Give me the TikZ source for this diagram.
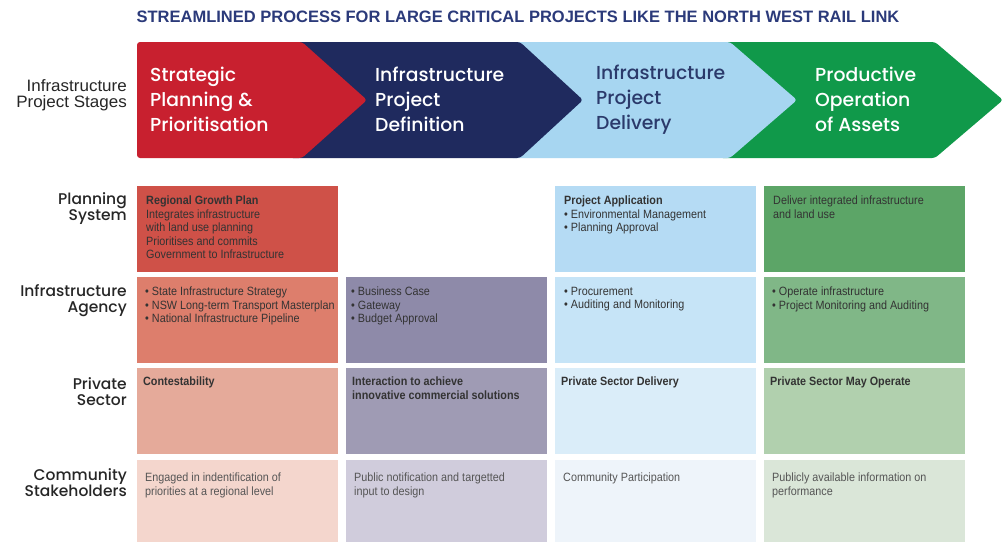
\documentclass[tikz,border=0pt]{standalone}
\usepackage{fontspec}
\setmainfont{Liberation Sans}
\newfontfamily\cellfont[FakeStretch=0.9]{Liberation Sans}
\newfontfamily\titlefont{Liberation Sans}
\newfontfamily\labfont{Poppins Medium}
\newfontfamily\stagefont[FakeStretch=1.03]{Liberation Sans}
\definecolor{chred}{HTML}{C8202F}
\definecolor{chnavy}{HTML}{1F2A5E}
\definecolor{chblue}{HTML}{A7D6F1}
\definecolor{chgreen}{HTML}{10994A}
\definecolor{bluetext}{HTML}{2B3A6B}
\definecolor{titlecol}{HTML}{2B3A7A}
\definecolor{celltxt}{HTML}{333333}
\definecolor{celltxtlight}{HTML}{555555}
\definecolor{rAa}{HTML}{CF5148}
\definecolor{rAc}{HTML}{B5DBF4}
\definecolor{rAd}{HTML}{5CA567}
\definecolor{rBa}{HTML}{DD7E6C}
\definecolor{rBb}{HTML}{8E8AA9}
\definecolor{rBc}{HTML}{C6E4F7}
\definecolor{rBd}{HTML}{80B787}
\definecolor{rCa}{HTML}{E5AA9A}
\definecolor{rCb}{HTML}{9F9BB4}
\definecolor{rCc}{HTML}{DAEDF9}
\definecolor{rCd}{HTML}{B1D0AE}
\definecolor{rDa}{HTML}{F4D6CD}
\definecolor{rDb}{HTML}{D0CCDC}
\definecolor{rDc}{HTML}{EEF4FA}
\definecolor{rDd}{HTML}{DAE6D8}
\tikzset{
  cellbox/.style={draw=none, inner sep=0pt, outer sep=0pt, anchor=north west, minimum width=201pt, minimum height=86pt},
  celltext/.style={anchor=north west, inner sep=0pt, align=left, font=\cellfont\fontsize{12}{13.5}\selectfont, text=celltxt},
  rowlabel/.style={anchor=east, align=right, inner sep=0pt, font=\labfont\fontsize{15.5}{16}\selectfont, text=black!85},
  stagetext/.style={anchor=west, align=left, inner sep=0pt, font=\labfont\fontsize{18.8}{25}\selectfont},
  chev/.style={rounded corners=3pt},
}
\begin{document}
\begin{tikzpicture}[x=1pt,y=-1pt]
\path[fill=white] (0,0) rectangle (1003,542);
\useasboundingbox (0,0) rectangle (1003,542);
% title
\node[font=\titlefont\bfseries\fontsize{16.5}{18}\selectfont, text=titlecol, inner sep=0pt] (title) at (518,17) {STREAMLINED PROCESS FOR LARGE CRITICAL PROJECTS LIKE THE NORTH WEST RAIL LINK};
% chevrons (back to front)
\fill[chgreen, chev] (720,42) -- (935,42) -- (1003,100) -- (935,158) -- (720,158) -- cycle;
\fill[chblue, chev] (510,42) -- (730,42) -- (797,100) -- (730,158) -- (510,158) -- cycle;
\fill[chnavy, chev] (290,42) -- (520,42) -- (583,100) -- (520,158) -- (290,158) -- cycle;
\fill[chred, chev] (137,42) -- (302,42) -- (367,100) -- (302,158) -- (137,158) -- cycle;
\node[stagetext, text=white] (s1) at (150,99.5) {Strategic\\Planning \&\\Prioritisation};
\node[stagetext, text=white] (s2) at (375,99.5) {Infrastructure\\Project\\Definition};
\node[stagetext, text=bluetext] (s3) at (596,99.5) {Infrastructure\\Project\\Delivery};
\node[stagetext, text=white] (s4) at (815,99.5) {Productive\\Operation\\of Assets};
% row labels
\node[rowlabel, font=\stagefont\fontsize{16.5}{16.5}\selectfont] (l0) at (127,95) {Infrastructure\\Project Stages};
\node[rowlabel] (l1) at (127,209) {Planning\\System};
\node[rowlabel] (l2) at (127,301) {Infrastructure\\Agency};
\node[rowlabel] (l3) at (127,392) {Private\\Sector};
\node[rowlabel] (l4) at (127,483) {Community\\Stakeholders};
% cells row 1
\node[cellbox, fill=rAa] (a1) at (137,186) {};
\node[cellbox, fill=rAc] (a3) at (555,186) {};
\node[cellbox, fill=rAd] (a4) at (764,186) {};
% row 2
\node[cellbox, fill=rBa] (b1) at (137,277) {};
\node[cellbox, fill=rBb] (b2) at (346,277) {};
\node[cellbox, fill=rBc] (b3) at (555,277) {};
\node[cellbox, fill=rBd] (b4) at (764,277) {};
% row 3
\node[cellbox, fill=rCa] (c1) at (137,368) {};
\node[cellbox, fill=rCb] (c2) at (346,368) {};
\node[cellbox, fill=rCc] (c3) at (555,368) {};
\node[cellbox, fill=rCd] (c4) at (764,368) {};
% row 4
\node[cellbox, fill=rDa, minimum height=82pt] (d1) at (137,460) {};
\node[cellbox, fill=rDb, minimum height=82pt] (d2) at (346,460) {};
\node[cellbox, fill=rDc, minimum height=82pt] (d3) at (555,460) {};
\node[cellbox, fill=rDd, minimum height=82pt] (d4) at (764,460) {};
% cell texts
\node[celltext] (ta1) at ([xshift=9pt,yshift=-10pt]a1.north west) {\textbf{Regional Growth Plan}\\Integrates infrastructure\\with land use planning\\Prioritises and commits\\Government to Infrastructure};
\node[celltext] (ta3) at ([xshift=9pt,yshift=-10pt]a3.north west) {\textbf{Project Application}\\• Environmental Management\\• Planning Approval};
\node[celltext] (ta4) at ([xshift=9pt,yshift=-10pt]a4.north west) {Deliver integrated infrastructure\\and land use};
\node[celltext] (tb1) at ([xshift=8pt,yshift=-10pt]b1.north west) {• State Infrastructure Strategy\\• NSW Long-term Transport Masterplan\\• National Infrastructure Pipeline};
\node[celltext] (tb2) at ([xshift=5pt,yshift=-10pt]b2.north west) {• Business Case\\• Gateway\\• Budget Approval};
\node[celltext] (tb3) at ([xshift=9pt,yshift=-10pt]b3.north west) {• Procurement\\• Auditing and Monitoring};
\node[celltext] (tb4) at ([xshift=8pt,yshift=-10pt]b4.north west) {• Operate infrastructure\\• Project Monitoring and Auditing};
\node[celltext] (tc1) at ([xshift=6pt,yshift=-9pt]c1.north west) {\textbf{Contestability}};
\node[celltext] (tc2) at ([xshift=6pt,yshift=-9pt]c2.north west) {\textbf{Interaction to achieve}\\\textbf{innovative commercial solutions}};
\node[celltext] (tc3) at ([xshift=6pt,yshift=-9pt]c3.north west) {\textbf{Private Sector Delivery}};
\node[celltext] (tc4) at ([xshift=6pt,yshift=-9pt]c4.north west) {\textbf{Private Sector May Operate}};
\node[celltext, text=celltxtlight] (td1) at ([xshift=8pt,yshift=-13pt]d1.north west) {Engaged in indentification of\\priorities at a regional level};
\node[celltext, text=celltxtlight] (td2) at ([xshift=8pt,yshift=-13pt]d2.north west) {Public notification and targetted\\input to design};
\node[celltext, text=celltxtlight] (td3) at ([xshift=8pt,yshift=-13pt]d3.north west) {Community Participation};
\node[celltext, text=celltxtlight] (td4) at ([xshift=8pt,yshift=-13pt]d4.north west) {Publicly available information on\\performance};
\end{tikzpicture}
\end{document}
